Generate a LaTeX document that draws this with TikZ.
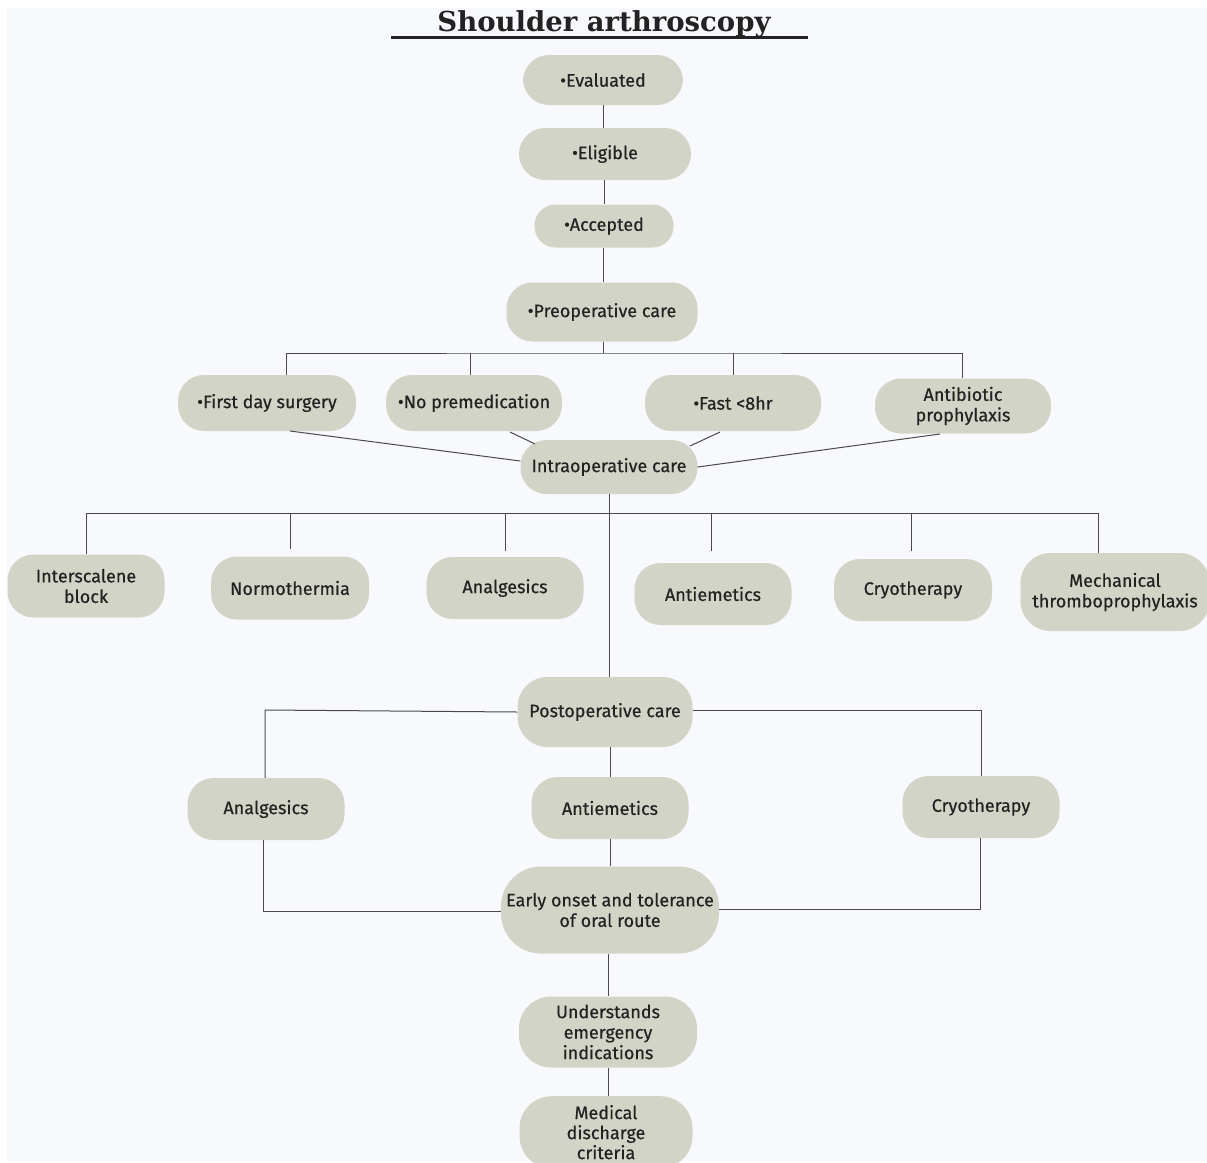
\documentclass[tikz,border=0pt]{standalone}
\usepackage{fontspec}
\setmainfont{Fira Sans}[FakeBold=0.4]
\newfontfamily\titlefont{DejaVu Serif}
\usetikzlibrary{calc}
\definecolor{bgc}{HTML}{F8F9FD}
\definecolor{boxc}{HTML}{D1D4C6}
\definecolor{linec}{HTML}{4A4A4A}
\definecolor{txtc}{HTML}{222222}
\tikzset{
  pill/.style={fill=boxc, draw=none, rounded corners=26pt, align=center, inner sep=0pt,
     font=\fontsize{18}{20.5}\selectfont, text=txtc},
  conn/.style={draw=linec, line width=1pt},
}
\begin{document}
\begin{tikzpicture}[x=1pt,y=-1pt]
\useasboundingbox (0,0) rectangle (1207,1162);
\fill[white] (0,0) rectangle (1207,1162);
\fill[bgc] (7,8) rectangle (1207,1161);
% title
\node[font=\titlefont\bfseries\fontsize{27.5}{30}\selectfont, text=txtc, inner sep=0pt, anchor=base] (title) at (604,31) {Shoulder arthroscopy};
\draw[line width=3pt, txtc] (391,37) -- (808,37);
% nodes
\node[pill, minimum width=160pt, minimum height=50pt] (ev) at (603,80) {•Evaluated};
\node[pill, minimum width=172pt, minimum height=52pt] (el) at (605,154) {•Eligible};
\node[pill, minimum width=139pt, minimum height=43pt, rounded corners=21pt] (ac) at (604,226) {•Accepted};
\node[pill, minimum width=191pt, minimum height=59pt] (pre) at (602,312) {•Preoperative care};
\node[pill, minimum width=178pt, minimum height=56pt] (fds) at (267,403) {•First day surgery};
\node[pill, minimum width=176pt, minimum height=56pt] (np) at (474,403) {•No premedication};
\node[pill, minimum width=176pt, minimum height=56pt] (fa) at (733,403) {•Fast <8hr};
\node[pill, minimum width=176pt, minimum height=55pt] (ab) at (963,406) {Antibiotic\\prophylaxis};
\node[pill, minimum width=177pt, minimum height=54pt] (intra) at (609,467) {Intraoperative care};
\node[pill, minimum width=157pt, minimum height=63pt] (isb) at (86,586) {Interscalene\\block};
\node[pill, minimum width=158pt, minimum height=63pt] (nt) at (290,588) {Normothermia};
\node[pill, minimum width=157pt, minimum height=62pt] (an1) at (505,588) {Analgesics};
\node[pill, minimum width=157pt, minimum height=62pt] (ae1) at (713,594) {Antiemetics};
\node[pill, minimum width=158pt, minimum height=62pt] (cr1) at (913,590) {Cryotherapy};
\node[pill, minimum width=189pt, minimum height=78pt, rounded corners=30pt] (mt) at (1115,592) {Mechanical\\thromboprophylaxis};
\node[pill, minimum width=175pt, minimum height=70pt, rounded corners=30pt] (post) at (605,712) {Postoperative care};
\node[pill, minimum width=157pt, minimum height=62pt] (an2) at (266,809) {Analgesics};
\node[pill, minimum width=157pt, minimum height=62pt] (ae2) at (610,808) {Antiemetics};
\node[pill, minimum width=157pt, minimum height=62pt] (cr2) at (981,807) {Cryotherapy};
\node[pill, minimum width=218pt, minimum height=87pt, rounded corners=40pt] (eo) at (610,910) {Early onset and tolerance\\of oral route};
\node[pill, minimum width=178pt, minimum height=71pt, rounded corners=32pt] (un) at (608,1032) {Understands\\emergency\\indications};
\node[pill, minimum width=173pt, minimum height=72pt, rounded corners=32pt, anchor=north, font=\fontsize{18}{20}\selectfont] (md) at (606,1096) {Medical\\discharge\\criteria};
% connectors
\draw[conn] (ev.south -| 603,0) -- (el.north -| 603,0);
\draw[conn] (el.south -| 604,0) -- (ac.north -| 604,0);
\draw[conn] (ac.south -| 603,0) -- (pre.north -| 603,0);
\coordinate (hb) at (603,353);
\draw[conn] (pre.south -| 603,0) -- (hb);
\draw[conn] (fds.north -| 286,0) |- (hb) -| (ab.north -| 962,0);
\draw[conn] (np.north -| 470,0) -- (470,353);
\draw[conn] (fa.north) -- (733,353);
\draw[conn] (290,431) -- (intra.west |- 0,461);
\draw[conn] (510,432) -- (535,444);
\draw[conn] (720,432) -- (690,446);
\draw[conn] (940,434) -- (intra.east |- 0,467);
\draw[conn] (intra.south -| 609,0) -- (post.north -| 609,0);
\draw[conn] (86,513) -- (1098,513);
\draw[conn] (86,513) -- (isb.north -| 86,0);
\draw[conn] (290,513) -- (290,549);
\draw[conn] (505,513) -- (505,551);
\draw[conn] (711,513) -- (711,551);
\draw[conn] (911,513) -- (911,551);
\draw[conn] (1098,513) -- (1098,553);
\draw[conn] (post.west) -- (265,710) -- (an2.north -| 265,0);
\draw[conn] (post.east |- 0,710) -| (cr2.north);
\draw[conn] (post.south -| 610,0) -- (ae2.north);
\draw[conn] (an2.south -| 263,0) |- (eo.west |- 0,911);
\draw[conn] (cr2.south -| 980,0) |- (eo.east |- 0,909);
\draw[conn] (ae2.south) -- (eo.north);
\draw[conn] (eo.south -| 608,0) -- (un.north);
\draw[conn] (un.south) -- (md.north -| 608,0);
\end{tikzpicture}
\end{document}
